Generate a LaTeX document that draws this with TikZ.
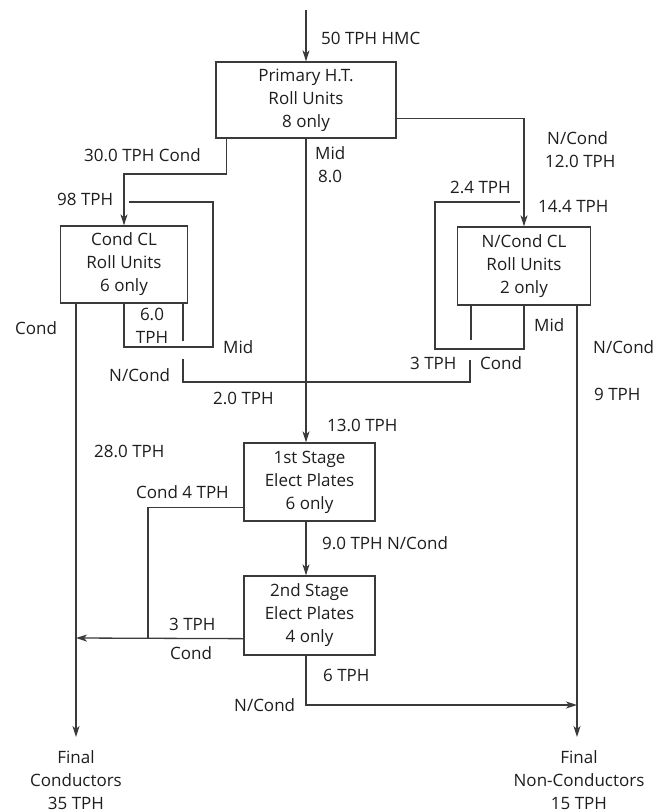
\documentclass[tikz,border=0pt]{standalone}
\usepackage{fontspec}
\setmainfont{Open Sans}
\usetikzlibrary{arrows.meta}
\definecolor{lc}{HTML}{3A3A3A}
\definecolor{tc}{HTML}{1E1E1E}
\begin{document}
\begin{tikzpicture}[x=1pt,y=-1pt,
  line/.style={draw=lc, line width=1.3pt},
  arr/.style={line, -{Stealth[length=11pt,width=7pt,inset=3pt]}},
  box/.style={draw=lc, line width=1.3pt, align=center, inner sep=0pt, font=\fontsize{17}{23}\selectfont, text=tc},
  lab/.style={anchor=west, inner sep=0pt, font=\fontsize{17}{20}\selectfont, text=tc},
  clab/.style={anchor=center, inner sep=0pt, font=\fontsize{17}{20}\selectfont, text=tc},
  fin/.style={anchor=north, align=center, inner sep=0pt, font=\fontsize{17}{23}\selectfont, text=tc}]
\fill[white] (0,0) rectangle (667,812);
\useasboundingbox (0,0) rectangle (667,812);

% boxes
\node[box, minimum width=180pt, minimum height=76pt] (prim) at (306,100) {Primary H.T.\\Roll Units\\8 only};
\node[box, minimum width=127pt, minimum height=77pt] (ccl) at (124,264.5) {Cond CL\\Roll Units\\6 only};
\node[box, minimum width=133pt, minimum height=78pt] (ncl) at (524,266) {N/Cond CL\\Roll Units\\2 only};
\node[box, minimum width=131pt, minimum height=78pt] (s1) at (309.5,482) {1st Stage\\Elect Plates\\6 only};
\node[box, minimum width=131pt, minimum height=79pt] (s2) at (309.5,615.5) {2nd Stage\\Elect Plates\\4 only};
\node[fin] (fc) at (76,750) {Final\\Conductors\\35 TPH};
\node[fin] (fn) at (579,750) {Final\\Non-Conductors\\15 TPH};

% feed
\coordinate (in) at (306,10);
\draw[arr] (in) -- (prim.north);

% conductor branch of primary
\coordinate (j1) at (124,174);
\draw[arr] ([xshift=11pt]prim.south west) |- (j1) -- (ccl.north);

% Cond CL recirculation loop
\coordinate (cl1) at (213,347);
\coordinate (cl2) at (213,202);
\coordinate (cl3) at (129,202);
\draw[line] (ccl.south) |- (cl1) -- (cl2) -- (cl3);
\coordinate (cl4) at (183,341);
\draw[line] (ccl.south -| cl4) -- (cl4);

% Cond CL conductors out
\draw[arr] (ccl.south -| fc.north) -- ([yshift=13pt]fc.north -| ccl.south -| fc.north);

% middlings join line
\coordinate (m1) at (183,359);
\coordinate (m2) at (470,382);
\coordinate (m3) at (470,360);
\draw[line] (m1) |- (m2) -- (m3);

% Mid down to 1st stage
\draw[arr] (prim.south) -- (prim.south |- s1.north);

% non-conductor branch of primary
\draw[arr] ([yshift=20pt]prim.south east) -| (ncl.north);

% N/Cond CL recirculation loop
\coordinate (nl1) at (435,349);
\coordinate (nl2) at (435,202);
\coordinate (nl3) at (520,202);
\draw[line] (ncl.south) |- (nl1) -- (nl2) -- (nl3);
\coordinate (nl4) at (471,340);
\draw[line] (ncl.south -| nl4) -- (nl4);

% N/Cond CL non-conductors out
\coordinate (nx) at (577,0);
\draw[arr] (ncl.south -| nx) -- ([yshift=13pt]fn.north -| nx);

% stage 1 -> stage 2
\draw[arr] (s1.south -| prim.south) -- (s2.north -| prim.south);
\coordinate (j4) at (148,638);
\draw[line] ([yshift=14pt]s1.south west) -| (j4);
\coordinate (j5) at (76,638);
\draw[arr] ([yshift=17pt]s2.south west) -- (j5);
\coordinate (j6) at (577,705);
\draw[arr] (s2.south -| prim.south) |- (j6);

% labels
\node[lab] (l1) at (321,38) {50 TPH HMC};
\node[lab] (l2) at (84,155) {30.0 TPH Cond};
\node[lab] (l3) at (315,153) {Mid};
\node[lab] (l4) at (318,176) {8.0};
\node[lab] (l5) at (547,138) {N/Cond};
\node[lab] (l6) at (545,161) {12.0 TPH};
\node[lab] (l7) at (450,187) {2.4 TPH};
\node[lab] (l8) at (57,199) {98 TPH};
\node[lab] (l9) at (538,207) {14.4 TPH};
\node[clab] (l10) at (152,314) {6.0};
\node[clab] (l11) at (152,337) {TPH};
\node[lab] (l12) at (15,328) {Cond};
\node[lab] (l13) at (223,347) {Mid};
\node[lab] (l14) at (109,375) {N/Cond};
\node[lab] (l15) at (213,398) {2.0 TPH};
\node[lab] (l16) at (534,325) {Mid};
\node[lab] (l17) at (593,347) {N/Cond};
\node[lab] (l18) at (410,363) {3 TPH};
\node[lab] (l19) at (480,363) {Cond};
\node[lab] (l20) at (594,394) {9 TPH};
\node[lab] (l21) at (327,425) {13.0 TPH};
\node[lab] (l22) at (94,451) {28.0 TPH};
\node[lab] (l23) at (136,492) {Cond 4 TPH};
\node[lab] (l24) at (322,543) {9.0 TPH N/Cond};
\node[lab] (l25) at (169,624) {3 TPH};
\node[lab] (l26) at (170,653) {Cond};
\node[lab] (l27) at (323,675) {6 TPH};
\node[lab] (l28) at (234,705) {N/Cond};
\end{tikzpicture}
\end{document}
